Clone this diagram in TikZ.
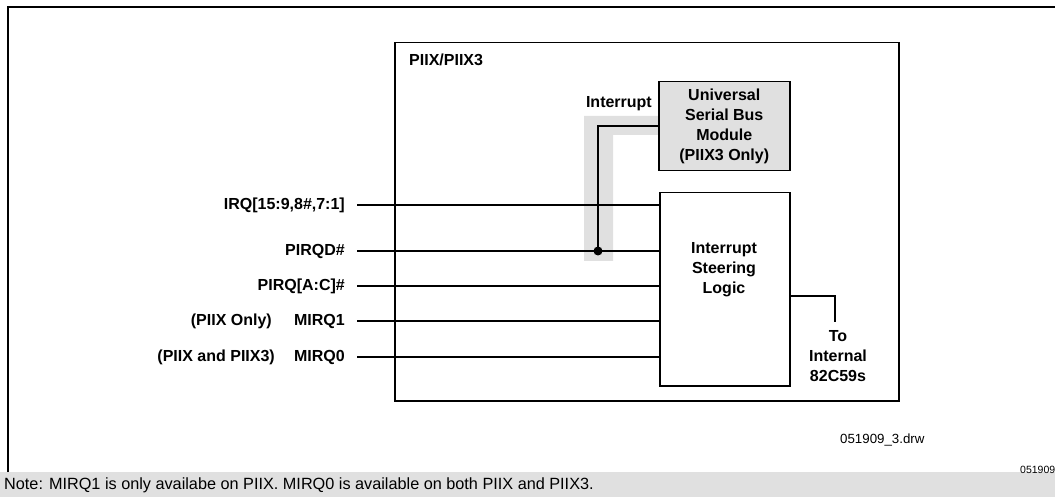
\documentclass[tikz,border=0pt]{standalone}
\usepackage{fontspec}
\setmainfont{Liberation Sans}
\usepackage{tikz}
\usepackage{xcolor}

\definecolor{bandgray}{gray}{0.88}

\begin{document}
\begin{tikzpicture}[x=1pt,y=-1pt,
  box/.style={draw,line width=1.5pt,inner sep=0pt},
  sig/.style={line width=1.5pt},
  lbl/.style={font=\fontsize{16}{20}\selectfont\bfseries,inner sep=0pt,align=center}]

\useasboundingbox (0,0) rectangle (1055,497);

% frame and note band
\fill[bandgray] (0,472) rectangle (1055,497);
\draw[line width=2.2pt] (8,472) -- (8,7) -- (1056,7);
\node[anchor=west,inner sep=0pt,font=\fontsize{16.25}{18}\selectfont] (note) at (4,485)
  {Note: MIRQ1 is only availabe on PIIX. MIRQ0 is available on both PIIX and PIIX3.};

% chip outline
\node[box,anchor=north west,minimum width=504pt,minimum height=358pt] (piix) at (394,42) {};
\node[lbl,anchor=west] (piixname) at (409,60) {PIIX/PIIX3};

% highlight behind the interrupt line
\fill[bandgray] (584,116) -- (658,116) -- (658,135) -- (613,135) -- (613,261) -- (584,261) -- cycle;

\node[box,fill=bandgray,anchor=north west,minimum width=131pt,minimum height=89pt,lbl] (usb) at (658,81)
  {Universal\\Serial Bus\\Module\\(PIIX3 Only)};
\node[box,anchor=north west,minimum width=130pt,minimum height=193pt] (steer) at (659,192) {};
\node[lbl] (steername) at (724,270) {Interrupt\\Steering\\Logic};

% input signals
\foreach \y/\name/\txt in {205/irq/{IRQ[15:9,8\#,7:1]}, 251/pirqd/{PIRQD\#},
    286/pirqac/{PIRQ[A:C]\#}, 321/mirqa/{MIRQ1}, 357/mirqb/{MIRQ0}} {
  \node[lbl,anchor=east] (\name) at (345,\y) {\txt};
  \coordinate (\name-in) at (357,\y);
  \draw[sig] (\name-in) -- (\name-in -| steer.west);
}
\node[lbl,anchor=east] (onlyx) at (272,321) {(PIIX Only)};
\node[lbl,anchor=east] (both) at (275,357) {(PIIX and PIIX3)};

% usb interrupt tapped onto PIRQD#
\coordinate (tap) at (598,251);
\draw[sig] (usb.west) -| (tap);
\fill (tap) circle (4.5);
\node[lbl,anchor=east] (intname) at (652,104) {Interrupt};

% output to the 82C59s
\coordinate (out) at (835,322);
\draw[sig] (steer.east |- 0,296) -| (out);
\node[lbl] (outname) at (838,356) {To\\Internal\\82C59s};

\node[anchor=west,inner sep=0pt,font=\fontsize{13.3}{15}\selectfont] (drw) at (840,440) {051909\_3.drw};
\node[anchor=west,inner sep=0pt,font=\fontsize{10.5}{12}\selectfont] (tag) at (1020,470) {051909};

\end{tikzpicture}
\end{document}
